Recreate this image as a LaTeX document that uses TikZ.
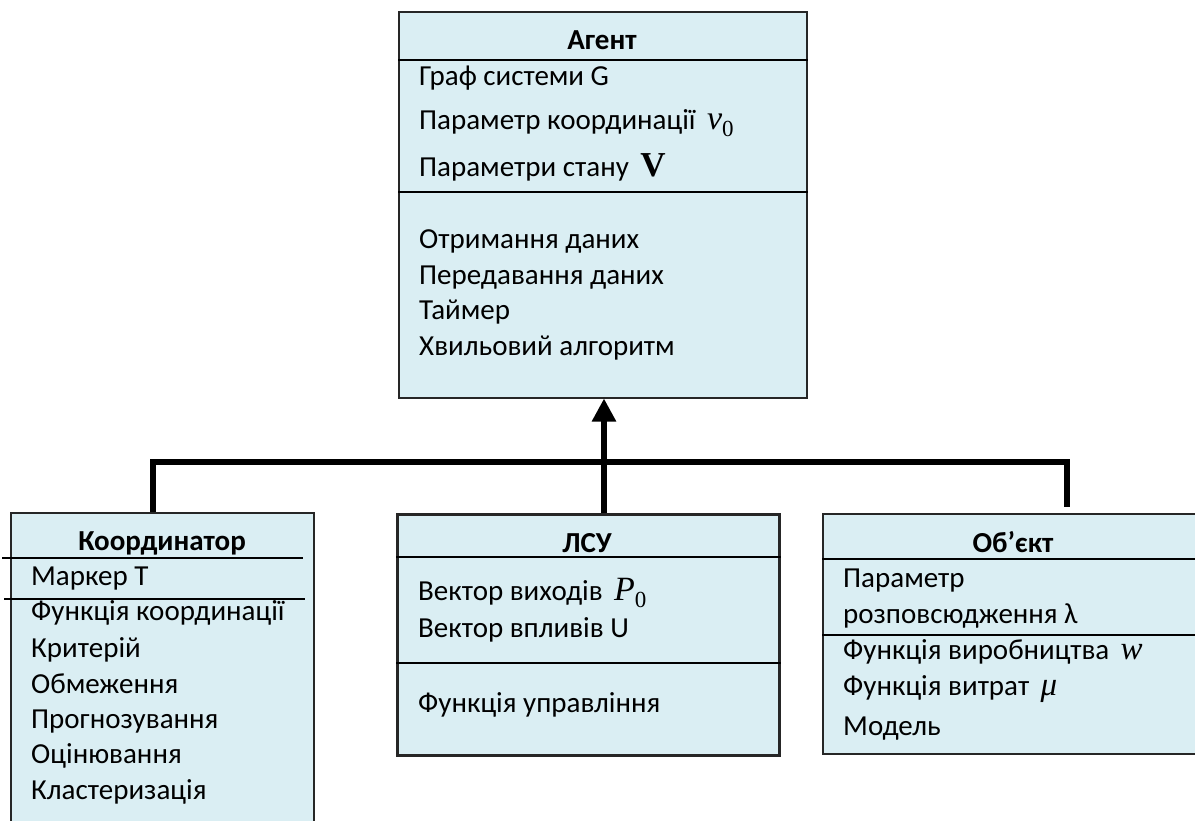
\documentclass[tikz,border=0pt]{standalone}
\usepackage{fontspec}
\setmainfont{Carlito}
\newfontfamily\symfont{Liberation Serif}
\usetikzlibrary{arrows.meta}
\definecolor{boxfill}{HTML}{DAEEF3}
\newcommand\isym[2]{{\symfont\itshape\fontsize{34}{36}\selectfont #1}\raisebox{-7pt}{\symfont\fontsize{23}{25}\selectfont #2}}
\tikzset{
  box/.style={draw=black!85, fill=boxfill, line width=1.5pt, rectangle, inner sep=0pt, anchor=north west},
  sep/.style={draw=black, line width=2pt},
  txt/.style={anchor=base west, inner sep=0pt, font=\fontsize{29}{33}\selectfont},
  ttl/.style={anchor=base, inner sep=0pt, font=\fontsize{29}{33}\selectfont\bfseries},
  conn/.style={draw=black, line width=5.5pt},
}
\begin{document}
\begin{tikzpicture}[x=1pt,y=-1pt]
\clip (0,0) rectangle (1195,820);
\fill[white] (0,0) rectangle (1195,820);
% boxes
\node[box, minimum width=408pt, minimum height=386pt] (agent) at (398,11) {};
\node[box, minimum width=303pt, minimum height=320pt] (coord) at (10,512) {};
\node[box, line width=2.5pt, minimum width=382pt, minimum height=241pt] (lsu) at (396,513) {};
\node[box, minimum width=380pt, minimum height=240pt] (obj) at (822,513) {};
% separators
\draw[sep] (agent.west |- 0,60) -- (agent.east |- 0,60);
\draw[sep] (agent.west |- 0,192) -- (agent.east |- 0,192);
\draw[sep] (2,558) -- (303,558);
\draw[sep] (4,599) -- (305,599);
\draw[sep] (lsu.west |- 0,557) -- (lsu.east |- 0,557);
\draw[sep] (lsu.west |- 0,663) -- (lsu.east |- 0,663);
\draw[sep] (obj.west |- 0,559) -- (1195,559);
\draw[sep] (obj.west |- 0,635) -- (1195,635);
% agent texts
\node[ttl] (agentT) at (602,49) {Агент};
\node[txt] (a1) at (419,85) {Граф системи G};
\node[txt] (a2) at (419,129) {Параметр координації \,\isym{v}{0}};
\node[txt] (a3) at (419,176) {Параметри стану \,{\symfont\bfseries\fontsize{35}{37}\selectfont V}};
\node[txt] (a4) at (419,248) {Отримання даних};
\node[txt] (a5) at (419,284) {Передавання даних};
\node[txt] (a6) at (419,319) {Таймер};
\node[txt] (a7) at (419,355) {Хвильовий алгоритм};
% coordinator texts
\node[ttl] (coordT) at (162,550) {Координатор};
\node[txt] (c1) at (31,585) {Маркер Т};
\node[txt] (c2) at (31,620) {Функція координації};
\node[txt] (c3) at (31,657) {Критерій};
\node[txt] (c4) at (31,693) {Обмеження};
\node[txt] (c5) at (31,728) {Прогнозування};
\node[txt] (c6) at (31,763) {Оцінювання};
\node[txt] (c7) at (31,799) {Кластеризація};
% LSU texts
\node[ttl] (lsuT) at (587,552) {ЛСУ};
\node[txt] (l1) at (418,600) {Вектор виходів \,\isym{P}{0}};
\node[txt] (l2) at (418,637) {Вектор впливів U};
\node[txt] (l3) at (418,712) {Функція управління};
% object texts
\node[ttl] (objT) at (1013,552) {Об’єкт};
\node[txt] (o1) at (843,587) {Параметр};
\node[txt] (o2) at (843,623) {розповсюдження λ};
\node[txt] (o3) at (843,659) {Функція виробництва \,{\symfont\itshape\fontsize{33}{35}\selectfont w}};
\node[txt] (o4) at (843,695) {Функція витрат \,{\symfont\itshape\fontsize{33}{35}\selectfont μ}};
\node[txt] (o5) at (843,735) {Модель};
% connectors
\coordinate (barL) at (153,462);
\coordinate (barR) at (1067,462);
\coordinate (dropR) at (1067,507);
\draw[conn] (coord.north -| barL) -- (barL) -- (barR) -- (dropR);
\draw[conn, -{Triangle[length=23pt,width=23pt]}] (lsu.north -| 604,0) -- (agent.south -| 604,0);
\end{tikzpicture}
\end{document}
